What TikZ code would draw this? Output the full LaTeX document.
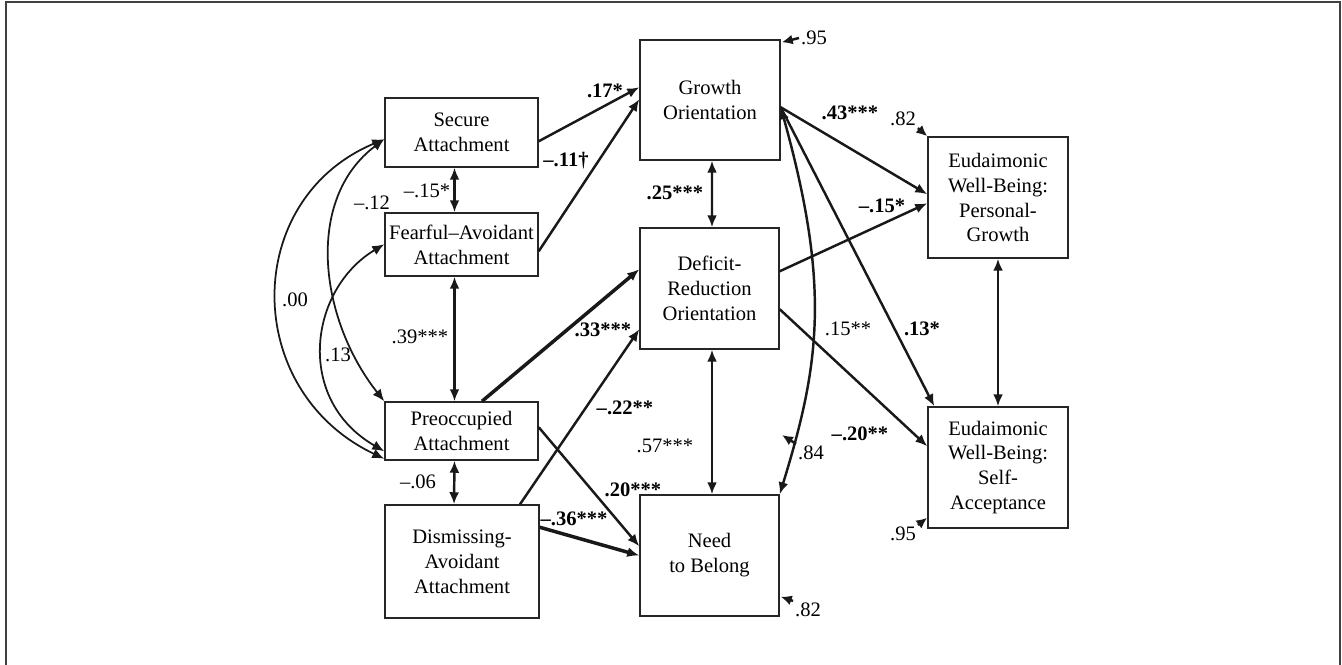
\documentclass[tikz,border=0pt]{standalone}
\usepackage{fontspec}
\setmainfont{Liberation Serif}
\usetikzlibrary{arrows.meta,calc}

\begin{document}
\begin{tikzpicture}[x=0.02cm,y=-0.02cm,>={Latex[length=2.4mm,width=2mm]}, every node/.style={font=\fontsize{11.7}{14.2}\selectfont}]
\tikzstyle{box}=[draw=black!85,line width=0.85pt,align=center,inner sep=0pt]
\tikzstyle{arr}=[->,line width=1.4pt,black!90]
\tikzstyle{heavy}=[->,line width=2pt,black!90]
\tikzstyle{cov}=[<->,line width=1.4pt,black!90]
\tikzstyle{curv}=[<->,line width=1pt,black!90]
\tikzstyle{res}=[-{Latex[length=2.2mm,width=2mm]},line width=1.4pt,black!90]
\tikzstyle{coef}=[font=\fontsize{11.7}{14.2}\selectfont\bfseries,inner sep=1pt]
\tikzstyle{corr}=[inner sep=1pt]
\useasboundingbox (0,0) rectangle (1342,665);
\draw[black!75,line width=1.1pt] (6,2) rectangle (1340,675);
% attachment styles
\node[box,minimum width=3.06cm,minimum height=1.38cm] (secure) at (461.5,132.5) {Secure\\Attachment};
\node[box,minimum width=3.06cm,minimum height=1.26cm] (fearful) at (461.5,244.5) {Fearful–Avoidant\\Attachment};
\node[box,minimum width=3.06cm,minimum height=1.16cm] (preoc) at (461.5,431) {Preoccupied\\Attachment};
\node[box,minimum width=3.08cm,minimum height=2.26cm] (dismiss) at (462,561.5) {Dismissing-\\Avoidant\\Attachment};
% mediators
\node[box,minimum width=2.8cm,minimum height=2.4cm] (growth) at (710,100) {Growth\\Orientation};
\node[box,minimum width=2.78cm,minimum height=2.42cm] (deficit) at (709.5,288.5) {Deficit-\\Reduction\\Orientation};
\node[box,minimum width=2.78cm,minimum height=2.42cm] (need) at (709.5,555.5) {Need\\to Belong};
% outcomes
\node[box,minimum width=2.8cm,minimum height=2.42cm] (pg) at (998,197.5) {Eudaimonic\\Well-Being:\\Personal-\\Growth};
\node[box,minimum width=2.8cm,minimum height=2.42cm] (sa) at (998,467.5) {Eudaimonic\\Well-Being:\\Self-\\Acceptance};

\draw[arr] ($(secure.north east)+(0,44)$) -- ($(growth.north west)+(0,48)$);
\draw[arr] ($(fearful.north east)+(0,39)$) -- ($(growth.north west)+(0,60)$);
\draw[cov] ($(secure.south)+(-7,0)$) -- ($(fearful.north)+(-7,0)$);
\draw[cov] ($(fearful.south)+(-7,0)$) -- ($(preoc.north)+(-7,0)$);
\draw[cov] ($(preoc.south)+(-7,0)$) -- ($(dismiss.north)+(-8,0)$);
\draw[cov] ($(growth.south)+(2,0)$) -- ($(deficit.north)+(2.5,0)$);
\draw[cov] ($(deficit.south)+(2.5,0)$) -- ($(need.north)+(2.5,0)$);
\draw[heavy] ($(preoc.north)+(20.5,0)$) -- ($(deficit.north west)+(0,42)$);
\draw[arr] ($(dismiss.north)+(58,0)$) -- ($(deficit.north west)+(0,102)$);
\draw[arr] ($(preoc.north east)+(0,26)$) -- ($(need.north west)+(0,52)$);
\draw[heavy] ($(dismiss.north east)+(0,23)$) -- (need.west);
\draw[arr] ($(growth.north east)+(0,68)$) -- ($(pg.north west)+(0,58)$);
\draw[arr] ($(deficit.north east)+(0,44)$) -- ($(pg.north west)+(0,67)$);
\draw[arr] ($(growth.north east)+(0,68)$) -- ($(sa.north west)+(7,0)$);
\draw[arr] ($(deficit.north east)+(0,82)$) -- ($(sa.north west)+(0,40)$);
\draw[cov] (pg.south) -- (sa.north);
\draw[cov] ($(growth.north east)+(0,68)$) .. controls +(50,180) and +(40,-130) .. (need.north east);
\draw[curv] ($(secure.north west)+(0,42)$) .. controls +(-143,60) and +(-143,-68) .. ($(preoc.south west)+(0,-2)$);
\draw[curv] ($(secure.north west)+(0,42)$) .. controls +(-80,60) and +(-65,-82) .. (preoc.north west);
\draw[curv] ($(fearful.north west)+(0,32)$) .. controls +(-75,45) and +(-90,-52) .. ($(preoc.north west)+(0,50)$);

% coefficients
\node[coef] (c17) at (605,91) {.17*};
\node[coef] (c11) at (566,161) {–.11†};
\node[corr] (c15a) at (427,191) {–.15*};
\node[corr] (c39) at (420,337) {.39***};
\node[corr] (c06) at (418,482) {–.06};
\node[coef] (c25) at (675,193) {.25***};
\node[corr] (c57) at (665,446) {.57***};
\node[coef] (c33) at (603,330) {.33***};
\node[coef] (c22) at (625,408) {–.22**};
\node[coef] (c20a) at (633,490) {.20***};
\node[coef] (c36) at (574,519) {–.36***};
\node[coef] (c43) at (850,113) {.43***};
\node[coef] (c15b) at (882,206) {–.15*};
\node[coef] (c13a) at (922,329) {.13*};
\node[coef] (c20b) at (860,434) {–.20**};
\node[corr] (c15c) at (848,329) {.15**};
\node[corr] (c12) at (372,203) {–.12};
\node[corr] (c00) at (295,300) {.00};
\node[corr] (c13b) at (338,355) {.13};

% residuals
\node[corr] (egrowth) at (814,38) {.95};
\draw[res] (egrowth.west) -- ($(growth.north east)+(1,3)$);
\node[corr] (epg) at (903,119) {.82};
\draw[res] (epg.south east) -- (pg.north west);
\node[corr] (esa) at (903,534) {.95};
\draw[res] (esa.north east) -- ($(sa.south west)+(0,-11)$);
\node[corr] (eneed) at (808,610) {.82};
\draw[res] (eneed.north west) -- ($(need.south east)+(1,-20)$);
\node[corr] (edef) at (811,453) {.84};
\coordinate (dtip) at (782,435);
\draw[res] (edef.north west) -- (dtip);
\end{tikzpicture}
\end{document}
